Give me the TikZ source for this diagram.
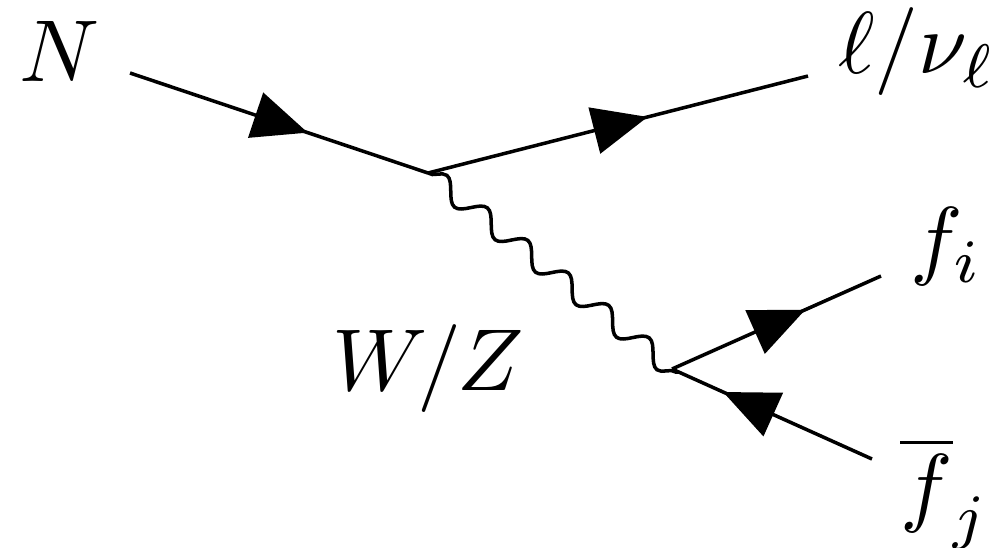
\documentclass[tikz,border=0pt]{standalone}
\usepackage{amsmath}
\usetikzlibrary{arrows.meta, calc, decorations.markings, decorations.pathmorphing}

\begin{document}
\begin{tikzpicture}[
    lbl/.style={inner sep=0pt, scale=2.5},
    fermion/.style={line width=1pt, postaction={decorate},
                    decoration={markings, mark=at position #1 with
                    {\arrow{Triangle[length=5.5mm, width=4.7mm]}}}},
    boson/.style={line width=1pt, decorate,
                  decoration={snake, amplitude=1mm, segment length=5.19mm}}
]
\useasboundingbox (0,0) rectangle (10.07,5.47);

\coordinate (in)  at (1.30,4.74);
\coordinate (v1)  at (4.28,3.74);
\coordinate (out) at (8.08,4.71);
\coordinate (v2)  at (6.72,1.78);
\coordinate (fi)  at (8.81,2.71);
\coordinate (fj)  at (8.72,0.88);

\node[lbl] (n)   at (0.60,4.955) {$N$};
\node[lbl] (l)   at (9.17,4.95) {$\ell/\nu_{\ell}$};
\node[lbl] (wz)  at (4.28,1.78) {$W/Z$};
\node[lbl] (f1)  at (9.47,3.00) {$f_i$};
\node[lbl] (f2)  at (9.45,0.54) {$\overline{f}_j$};

\draw[fermion=0.597] (in) -- (v1);
\draw[fermion=0.578] (v1) -- (out);
\draw[fermion=0.638] (v2) -- (fi);
\draw[fermion=0.745] (fj) -- (v2);
\begin{scope}
\clip (0,1.74) rectangle (10.07,5.47);
\draw[boson] (v1) -- ($(v1)!1.09!(v2)$);
\end{scope}
\end{tikzpicture}
\end{document}
